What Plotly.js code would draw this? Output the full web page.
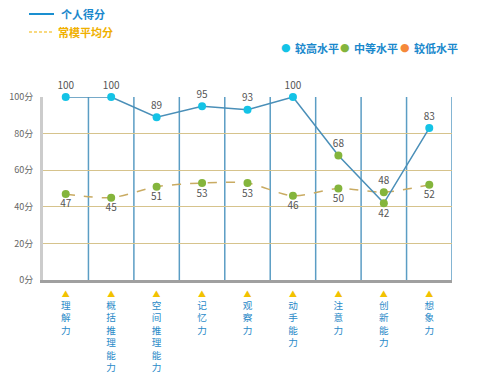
<!DOCTYPE html>
<html><head><meta charset="utf-8">
<script src="https://cdn.plot.ly/plotly-3.0.1.min.js"></script>
<style>html,body{margin:0;padding:0;background:#fff}#c{width:485px;height:379px}</style>
</head><body><div id="c"></div>
<script>
const categories = ['理解力','概括推理能力','空间推理能力','记忆力','观察力','动手能力','注意力','创新能力','想象力'];
const personal = [100,100,89,95,93,100,68,42,83];
const personalLevel = ['high','high','high','high','high','high','mid','mid','high'];
const average = [47,45,51,53,53,46,50,48,52];
const averageLevel = ['mid','mid','mid','mid','mid','mid','mid','mid','mid'];
const yTicks = [0,20,40,60,80,100];

const levelColor = {high:'#14c3e6', mid:'#84b53c', low:'#f5893a'};
const FONT = '"Noto Sans CJK SC", "Noto Sans", sans-serif';
const L=43, R=452, T=97, B=280;
const px = x => (x-L)/(R-L);
const py = y => (B-y)/(B-T);
const idx = categories.map((_,i)=>i);

const tickText = categories.map(c =>
  '<span style="color:#f2c200;font-size:8px">▲</span><br>' + c.split('').join('<br>'));

const traces = [
  {x: idx, y: average, type:'scatter', mode:'lines+markers+text',
   line:{color:'#c9ab62', width:1.5, dash:'dash', shape:'spline', smoothing:0.8},
   marker:{size:8, color: averageLevel.map(l=>levelColor[l])},
   text: average.map(String),
   textposition: average.map((v,i)=> v>personal[i] ? 'top center':'bottom center'),
   textfont:{size:10, color:'#555', family:FONT},
   cliponaxis:false, hoverinfo:'skip'},
  {x: idx, y: personal, type:'scatter', mode:'lines+markers+text',
   line:{color:'#4a8fb8', width:1.5},
   marker:{size:8, color: personalLevel.map(l=>levelColor[l])},
   text: personal.map(String),
   textposition: personal.map((v,i)=> v>=average[i] ? 'top center':'bottom center'),
   textfont:{size:10, color:'#555', family:FONT},
   cliponaxis:false, hoverinfo:'skip'}
];

const shapes = [];
idx.forEach(i => shapes.push({type:'line', xref:'x', yref:'paper', x0:i+0.5, x1:i+0.5, y0:0, y1:1,
  line:{color:'#5b9dc4', width:1.5}, layer:'below'}));
shapes.push({type:'line', xref:'paper', yref:'paper', x0:px(29), x1:px(54), y0:py(14), y1:py(14), line:{color:'#1a8fd0', width:2}});
shapes.push({type:'line', xref:'paper', yref:'paper', x0:px(29), x1:px(52), y0:py(32), y1:py(32), line:{color:'#f2b400', width:1.2, dash:'3px,2px'}});

const annotations = [
  {xref:'paper', yref:'paper', x:px(59), y:py(14), xanchor:'left', yanchor:'middle', showarrow:false,
   text:'<b>个人得分</b>', font:{size:11, color:'#1a88cc', family:FONT}},
  {xref:'paper', yref:'paper', x:px(56), y:py(32), xanchor:'left', yanchor:'middle', showarrow:false,
   text:'<b>常模平均分</b>', font:{size:11, color:'#f0b000', family:FONT}},
];
const legendItems = [['较高水平','high',286],['中等水平','mid',345],['较低水平','low',405]];
legendItems.forEach(([t,l,x]) => {
  annotations.push({xref:'paper', yref:'paper', x:px(x), y:py(47.5), xanchor:'center', yanchor:'middle', showarrow:false,
    text:'●', font:{size:11, color:levelColor[l], family:'DejaVu Sans'}});
  annotations.push({xref:'paper', yref:'paper', x:px(x+7), y:py(47.5), xanchor:'left', yanchor:'middle', showarrow:false,
    text:'<b>'+t+'</b>', font:{size:11, color:'#1a88cc', family:FONT}});
});

const layout = {
  width:485, height:379,
  margin:{l:L, r:485-R, t:T, b:379-B, pad:0},
  paper_bgcolor:'#fff', plot_bgcolor:'#fff',
  showlegend:false,
  font:{family:FONT},
  xaxis:{range:[-0.5, categories.length-0.5], tickmode:'array', tickvals:idx, ticktext:tickText,
    showgrid:false, zeroline:false, showline:true, linecolor:'#a0a0a0', linewidth:3,
    ticks:'', ticklabelstandoff:2, tickfont:{size:9.6, color:'#2a8ac8', family:FONT}, fixedrange:true},
  yaxis:{range:[0,100], tickmode:'array', tickvals:yTicks, ticktext:yTicks.map(v=>v+'分'),
    showgrid:true, gridcolor:'#d6c38c', gridwidth:1.2, zeroline:false,
    showline:true, linecolor:'#cccccc', linewidth:3, ticks:'', ticklabelstandoff:5,
    tickfont:{size:9, color:'#666', family:FONT}, fixedrange:true},
  shapes, annotations
};
Plotly.newPlot('c', traces, layout, {staticPlot:true, displayModeBar:false});
</script></body></html>
